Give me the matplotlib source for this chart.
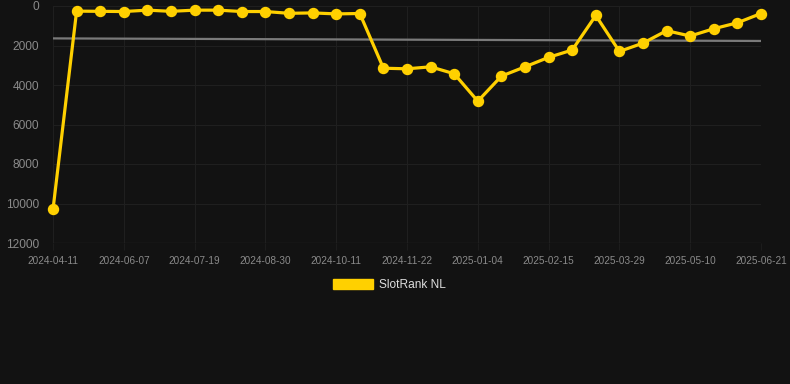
import matplotlib
matplotlib.use("Agg")
import matplotlib.pyplot as plt
from matplotlib.patches import Rectangle

dates = ["2024-04-11", "2024-05-10", "2024-05-24", "2024-06-07", "2024-06-21",
         "2024-07-05", "2024-07-19", "2024-08-02", "2024-08-16", "2024-08-30",
         "2024-09-13", "2024-09-27", "2024-10-11", "2024-10-25", "2024-11-08",
         "2024-11-22", "2024-12-07", "2024-12-21", "2025-01-04", "2025-01-18",
         "2025-02-01", "2025-02-15", "2025-03-01", "2025-03-15", "2025-03-29",
         "2025-04-12", "2025-04-26", "2025-05-10", "2025-05-24", "2025-06-07",
         "2025-06-21"]
rank = [10300, 260, 270, 280, 210, 270, 210, 210, 280, 280,
        370, 350, 400, 380, 3150, 3180, 3080, 3430, 4820, 3550,
        3080, 2600, 2230, 480, 2300, 1880, 1250, 1520, 1150, 850,
        380]
trend = [1640, 1770]
series_name = "SlotRank NL"

BG = "#121212"
YELLOW = "#FFD000"
GRID = "#1f1f1f"
TICK = "#8a8a8a"

plt.rcParams["font.family"] = ["Liberation Sans", "DejaVu Sans"]
fig = plt.figure(figsize=(7.9, 3.84), dpi=100, facecolor=BG)
ax = fig.add_axes([53 / 790, 1 - 243 / 384, (761 - 53) / 790, (243 - 6) / 384])
ax.set_facecolor(BG)

x = list(range(len(rank)))
ax.plot([x[0], x[-1]], trend, color="#7a7a7a", lw=1.6, zorder=2)
ax.plot(x, rank, color=YELLOW, lw=2.3, marker="o", markersize=7.2,
        markerfacecolor=YELLOW, markeredgecolor=YELLOW, zorder=3, clip_on=False)

ax.set_xlim(0, len(rank) - 1)
ax.set_ylim(12000, 0)
ax.set_yticks(range(0, 12001, 2000))
ticks = x[::3]
ax.set_xticks(ticks)
ax.set_xticklabels([dates[i] for i in ticks])
ax.grid(True, color=GRID, lw=0.8)
ax.set_axisbelow(True)
for s in ax.spines.values():
    s.set_visible(False)
ax.axhline(12000, color="#262626", lw=1, zorder=1)
ax.tick_params(axis="y", length=0, pad=10, labelsize=8.6, labelcolor=TICK)
ax.tick_params(axis="x", length=5, width=0.8, color="#1c1c1c", pad=4, labelsize=7.2, labelcolor=TICK)

# legend
fig.patches.append(Rectangle((333 / 790, 1 - 289 / 384), 40 / 790, 10 / 384,
                             transform=fig.transFigure, facecolor=YELLOW,
                             edgecolor=YELLOW, figure=fig))
fig.text(379 / 790, 1 - 285 / 384, series_name, color="#dddddd", fontsize=8.6,
         va="center", ha="left")

fig.savefig("out.png", dpi=100, facecolor=BG)
